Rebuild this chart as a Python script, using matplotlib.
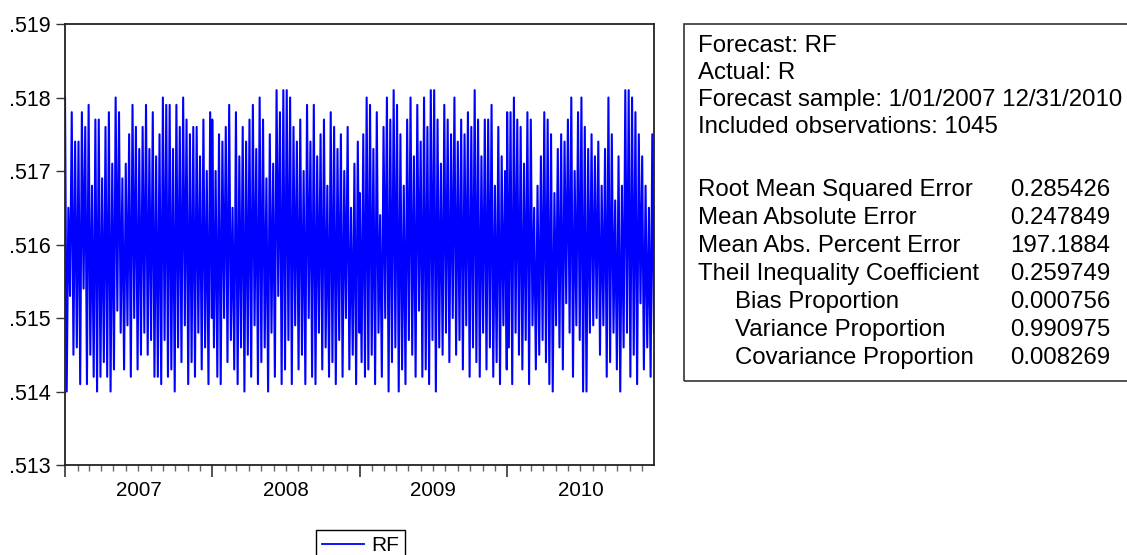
import matplotlib
matplotlib.use('Agg')
import matplotlib.pyplot as plt
import matplotlib.dates as mdates
from matplotlib.patches import Rectangle
from matplotlib.lines import Line2D
from matplotlib.ticker import FuncFormatter
import numpy as np
import pandas as pd

# forecast RF (extreme swings per year)
rf_2007 = [0.5180, 0.5140, 0.5165, 0.5153, 0.5178, 0.5145, 0.5174, 0.5146, 0.5174, 0.5141,
           0.5178, 0.5154, 0.5176, 0.5141, 0.5179, 0.5145, 0.5168, 0.5142, 0.5177, 0.5140,
           0.5177, 0.5142, 0.5169, 0.5144, 0.5176, 0.5142, 0.5178, 0.5140, 0.5171, 0.5143,
           0.5180, 0.5151, 0.5178, 0.5148, 0.5169, 0.5143, 0.5171, 0.5149, 0.5175, 0.5142,
           0.5179, 0.5150, 0.5176, 0.5143, 0.5173, 0.5145, 0.5176, 0.5148, 0.5179, 0.5145,
           0.5173, 0.5147, 0.5178, 0.5142, 0.5172, 0.5142, 0.5175, 0.5141, 0.5180, 0.5147,
           0.5179, 0.5142, 0.5179, 0.5143, 0.5173, 0.5140, 0.5179, 0.5146, 0.5176, 0.5144,
           0.5180, 0.5149, 0.5177, 0.5141, 0.5175, 0.5144, 0.5176, 0.5142, 0.5176, 0.5148,
           0.5172, 0.5143, 0.5177, 0.5146, 0.5170, 0.5141, 0.5178, 0.5150]
rf_2008 = [0.5177, 0.5146, 0.5170, 0.5142, 0.5175, 0.5141, 0.5174, 0.5150, 0.5176, 0.5144,
           0.5179, 0.5147, 0.5165, 0.5143, 0.5178, 0.5141, 0.5172, 0.5146, 0.5176, 0.5140,
           0.5174, 0.5145, 0.5177, 0.5142, 0.5179, 0.5149, 0.5173, 0.5141, 0.5180, 0.5144,
           0.5177, 0.5146, 0.5169, 0.5140, 0.5175, 0.5148, 0.5171, 0.5142, 0.5181, 0.5153,
           0.5178, 0.5141, 0.5181, 0.5143, 0.5181, 0.5147, 0.5180, 0.5141, 0.5176, 0.5149,
           0.5174, 0.5143, 0.5177, 0.5145, 0.5170, 0.5141, 0.5179, 0.5150, 0.5174, 0.5142,
           0.5179, 0.5141, 0.5172, 0.5148, 0.5175, 0.5143, 0.5177, 0.5146, 0.5168, 0.5142,
           0.5178, 0.5144, 0.5176, 0.5141, 0.5173, 0.5147, 0.5175, 0.5142, 0.5170, 0.5150,
           0.5176, 0.5143, 0.5165, 0.5145, 0.5171, 0.5141, 0.5174, 0.5148]
rf_2009 = [0.5167, 0.5144, 0.5175, 0.5142, 0.5180, 0.5143, 0.5179, 0.5145, 0.5173, 0.5141,
           0.5178, 0.5148, 0.5164, 0.5142, 0.5176, 0.5150, 0.5180, 0.5140, 0.5177, 0.5144,
           0.5181, 0.5146, 0.5179, 0.5140, 0.5175, 0.5143, 0.5168, 0.5141, 0.5177, 0.5147,
           0.5180, 0.5145, 0.5172, 0.5142, 0.5179, 0.5151, 0.5174, 0.5142, 0.5180, 0.5143,
           0.5176, 0.5141, 0.5181, 0.5147, 0.5181, 0.5140, 0.5177, 0.5146, 0.5171, 0.5145,
           0.5179, 0.5148, 0.5177, 0.5144, 0.5175, 0.5150, 0.5180, 0.5145, 0.5174, 0.5147,
           0.5177, 0.5143, 0.5175, 0.5149, 0.5178, 0.5142, 0.5176, 0.5146, 0.5181, 0.5144,
           0.5177, 0.5142, 0.5172, 0.5148, 0.5177, 0.5143, 0.5177, 0.5146, 0.5179, 0.5142,
           0.5168, 0.5144, 0.5176, 0.5141, 0.5172, 0.5149, 0.5170, 0.5143]
rf_2010 = [0.5178, 0.5146, 0.5178, 0.5141, 0.5180, 0.5148, 0.5177, 0.5145, 0.5176, 0.5143,
           0.5171, 0.5147, 0.5178, 0.5141, 0.5177, 0.5149, 0.5165, 0.5143, 0.5168, 0.5145,
           0.5172, 0.5147, 0.5178, 0.5144, 0.5177, 0.5141, 0.5175, 0.5140, 0.5167, 0.5149,
           0.5173, 0.5146, 0.5175, 0.5143, 0.5174, 0.5152, 0.5177, 0.5148, 0.5180, 0.5142,
           0.5170, 0.5149, 0.5178, 0.5147, 0.5180, 0.5140, 0.5176, 0.5140, 0.5173, 0.5148,
           0.5175, 0.5149, 0.5172, 0.5150, 0.5174, 0.5145, 0.5168, 0.5149, 0.5173, 0.5142,
           0.5180, 0.5144, 0.5175, 0.5148, 0.5166, 0.5143, 0.5172, 0.5140, 0.5168, 0.5146,
           0.5181, 0.5148, 0.5181, 0.5142, 0.5180, 0.5145, 0.5178, 0.5141, 0.5175, 0.5152,
           0.5172, 0.5143, 0.5168, 0.5146, 0.5165, 0.5142, 0.5175, 0.5148]
years = [2007, 2008, 2009, 2010]
y_ticks = [0.513, 0.514, 0.515, 0.516, 0.517, 0.518, 0.519]

header_lines = ['Forecast: RF', 'Actual: R', 'Forecast sample: 1/01/2007 12/31/2010',
                'Included observations: 1045']
stat_names = ['Root Mean Squared Error', 'Mean Absolute Error', 'Mean Abs. Percent Error',
              'Theil Inequality Coefficient', 'Bias Proportion', 'Variance Proportion',
              'Covariance Proportion']
stat_indent = [False, False, False, False, True, True, True]
stat_values = ['0.285426', '0.247849', '197.1884', '0.259749', '0.000756', '0.990975', '0.008269']

plt.rcParams['font.family'] = ['Liberation Sans', 'DejaVu Sans']

W, H = 1127, 555
fig = plt.figure(figsize=(W / 100, H / 100), dpi=100)
ax = fig.add_axes([65 / W, 1 - 465 / H, 589 / W, 441 / H])

dates = []
values = []
for yr, vals in zip(years, [rf_2007, rf_2008, rf_2009, rf_2010]):
    dates.extend(pd.date_range(f'{yr}-01-01', f'{yr}-12-31', periods=len(vals)))
    values.extend(vals)
ax.plot(dates, values, color='#0000ff', lw=1.5)

ax.set_xlim(pd.Timestamp('2007-01-01'), pd.Timestamp('2010-12-31'))
ax.set_ylim(0.513, 0.519)
ax.set_yticks(y_ticks)
ax.yaxis.set_major_formatter(FuncFormatter(lambda v, p: f'{v:.3f}'[1:]))
ax.tick_params(axis='y', length=6.3, width=1, labelsize=15.5, pad=4.3, color='#333333')

ax.set_xticks([pd.Timestamp(f'{y}-01-01') for y in years])
ax.set_xticklabels([])
ax.xaxis.set_minor_locator(mdates.MonthLocator())
ax.tick_params(axis='x', which='major', length=8.3, width=1.3, color='#444444')
ax.tick_params(axis='x', which='minor', length=4.3, width=1, color='#666666')
for y in years:
    ax.text(pd.Timestamp(f'{y}-07-02'), -26 / 441, str(y), transform=ax.get_xaxis_transform(),
            ha='center', va='center', fontsize=14.8)
for s in ax.spines.values():
    s.set_linewidth(1.3)
    s.set_color('#222222')

# statistics panel (right border runs off the canvas)
fig.patches.append(Rectangle((684 / W, 1 - 381 / H), 500 / W, 357 / H, transform=fig.transFigure,
                             fill=False, edgecolor='#333333', lw=1.2))
fs = 17.3
for i, line in enumerate(header_lines):
    fig.text(698 / W, 1 - (46 + 27 * i) / H, line, fontsize=fs, va='center', ha='left')
for i, (name, ind, val) in enumerate(zip(stat_names, stat_indent, stat_values)):
    yy = 1 - (190 + 28 * i) / H
    fig.text((735 if ind else 698) / W, yy, name, fontsize=fs, va='center', ha='left')
    fig.text(1010 / W, yy, val, fontsize=fs, va='center', ha='left')

handle = Line2D([], [], color='#0000ff', lw=1.3)
fig.legend([handle], ['RF'], loc='upper left', bbox_to_anchor=(316 / W, 1 - 530 / H),
           fontsize=15, frameon=True, fancybox=False, edgecolor='black', framealpha=1,
           handlelength=2.0, handletextpad=0.35, borderpad=0.3, borderaxespad=0)

fig.savefig('out.png', dpi=100)
